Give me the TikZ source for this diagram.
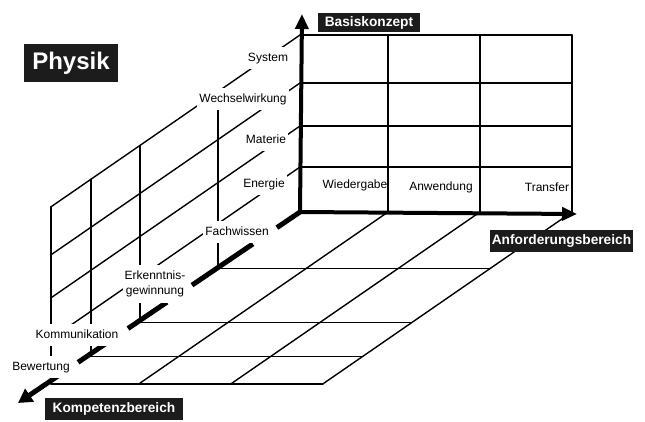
\documentclass[tikz,border=0pt]{standalone}
\usepackage{fontspec}
\setmainfont{Liberation Sans}
\usetikzlibrary{arrows.meta,calc}
\definecolor{boxbg}{HTML}{1C1C1C}
\begin{document}
\begin{tikzpicture}[x=1pt,y=-1pt,
  gridline/.style={line width=1.4pt,line cap=round},
  mainaxis/.style={line width=4pt},
  kaxis/.style={line width=5pt},
  bigtip/.tip={Triangle[length=15pt,width=13pt]},
  tag/.style={fill=white,inner xsep=2pt,inner ysep=0pt,minimum height=22pt,
    text height=8.6pt,text depth=2.5pt,font=\fontsize{12}{14}\selectfont},
  plain/.style={inner sep=1pt,text height=8.6pt,text depth=2.5pt,
    font=\fontsize{12}{14}\selectfont},
  titlebox/.style={fill=boxbg,text=white,inner sep=0pt,text height=10pt,text depth=3pt,
    font=\fontsize{13.7}{16}\selectfont\bfseries},
]
\useasboundingbox (0,0) rectangle (645,421);

% ---- key points
\coordinate (O) at (300,212);
\coordinate (Vtip) at (302,14);
\coordinate (Htip) at (577,214);
\coordinate (Ktip) at (18,403);

% ---- back wall (Basiskonzept x Anforderungsbereich)
\foreach \yy in {35,83,126,167}{
  \coordinate (bl\yy) at (300,\yy);
  \coordinate (br\yy) at (572,\yy);
  \draw[gridline] (bl\yy) -- (br\yy);
}
\foreach \xx in {388,480,572}{
  \coordinate (bt\xx) at (\xx,35);
  \coordinate (bb\xx) at (\xx,212);
  \draw[gridline] (bt\xx) -- (bb\xx);
}

% ---- floor (Anforderungsbereich x Kompetenzbereich)
\foreach \xx in {388,480,572}{
  \coordinate (ff\xx) at ({\xx-249},{212+0.69*249});
  \draw[gridline] (bb\xx) -- (ff\xx);
}
\foreach \s in {82,160,209,249}{
  \coordinate (fl\s) at ({300-\s},{212+0.69*\s});
  \coordinate (fr\s) at ({572-\s},{212+0.69*\s});
  \draw[gridline] (fl\s) -- (fr\s);
}

% ---- side wall (Basiskonzept x Kompetenzbereich)
\foreach \s in {82,160,209,249}{
  \coordinate (st\s) at ({300-\s},{35+0.69*\s});
  \draw[gridline] (fl\s) -- (st\s);
}
\foreach \yy in {35,83,126,167}{
  \coordinate (se\yy) at (51,{\yy+0.69*249});
  \draw[gridline] (bl\yy) -- (se\yy);
}

% ---- axes
\draw[mainaxis,bigtip-bigtip] (Vtip) -- (O) -- (Htip);
\draw[kaxis] ($(O)!0!(Ktip)$) -- ($(O)!0.082!(Ktip)$);
\draw[kaxis] ($(O)!0.167!(Ktip)$) -- ($(O)!0.383!(Ktip)$);
\draw[kaxis] ($(O)!0.472!(Ktip)$) -- ($(O)!0.61!(Ktip)$);
\draw[kaxis] ($(O)!0.68!(Ktip)$) -- ($(O)!0.787!(Ktip)$);
\draw[kaxis,-{Triangle[length=14pt,width=15pt]}] ($(O)!0.851!(Ktip)$) -- (Ktip);

% ---- side labels
\node[tag] (sys) at (268,58) {System};
\node[tag] (ww) at (243,99) {Wechselwirkung};
\node[tag] (mat) at (266,140) {Materie};
\node[tag] (en) at (264,184) {Energie};
\node[tag] (fw) at (237,232) {Fachwissen};
\node[fill=white,inner xsep=2pt,inner ysep=3pt,minimum height=38pt,align=center,
  font=\fontsize{12}{15}\selectfont] (eg) at (155,284) {Erkenntnis-\\gewinnung};
\node[tag] (kom) at (77,335) {Kommunikation};
\node[tag] (bew) at (41,367) {Bewertung};

% ---- back wall labels
\node[plain] (wg) at (355,185) {Wiedergabe};
\node[plain] (an) at (441,187) {Anwendung};
\node[plain] (tr) at (547,188) {Transfer};

% ---- title boxes
\node[titlebox,minimum width=94pt,minimum height=38pt,text height=17pt,text depth=5pt,
  font=\fontsize{24}{28}\selectfont\bfseries] (phys) at (71,63) {Physik};
\node[titlebox,minimum width=102pt,minimum height=19pt] (bk) at (369,22.5) {Basiskonzept};
\node[titlebox,minimum width=143pt,minimum height=22pt] (ab) at (561.5,241) {Anforderungsbereich};
\node[titlebox,minimum width=138pt,minimum height=22pt] (kb) at (114,409) {Kompetenzbereich};
\end{tikzpicture}
\end{document}
